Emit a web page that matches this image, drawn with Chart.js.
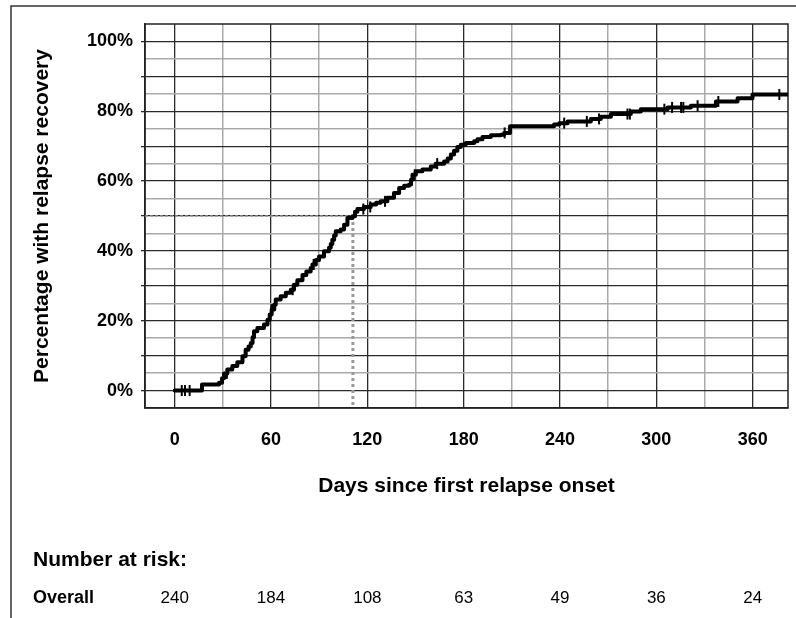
<!DOCTYPE html>
<html>
<head>
<meta charset="utf-8">
<script src="https://cdn.jsdelivr.net/npm/chart.js@4.4.1/dist/chart.umd.min.js"></script>
<style>
  html, body { margin: 0; padding: 0; background: #fff; }
  #wrap { position: relative; width: 796px; height: 618px; }
</style>
</head>
<body>
<div id="wrap"><canvas id="c" width="796" height="618"></canvas></div>
<script>
// ---- data ----
const stepDays = [0, 17, 27.6, 29.5, 30.7, 32.8, 35.9, 39.0, 42.2, 44.2, 46.0, 47.4, 48.5, 49.4, 51.5, 55.6, 57.8, 59.2, 60.4, 62.0, 62.9, 66.0, 69.2, 72.3, 74.3, 76.4, 79.6, 82.0, 84.7, 85.8, 87.9, 89.9, 93.0, 96.1, 97.2, 98.2, 99.3, 100.3, 103.4, 105.5, 107.6, 110.7, 112.3, 113.8, 117.9, 122.1, 125.5, 128.3, 132.5, 136.6, 139.8, 142.9, 146.0, 147.2, 148.1, 150.2, 154.3, 159.5, 162.5, 167.8, 170.0, 172.0, 174.0, 176.1, 178.2, 181.3, 186.5, 188.6, 191.7, 196.9, 203.1, 205.2, 208.9, 236.3, 239.5, 244.7, 259.2, 265.4, 271.7, 284.1, 290.3, 307.0, 321.5, 337.1, 350.6, 359.9, 385];
const stepPct = [0, 1.7, 2.2, 3.5, 4.9, 6.0, 7.0, 8.1, 9.8, 11.7, 12.6, 13.6, 15.3, 17.0, 17.9, 18.9, 20.3, 21.8, 23.2, 24.6, 26.1, 27.0, 28.0, 28.9, 30.3, 31.6, 33.1, 34.1, 35.1, 36.1, 37.4, 38.4, 39.9, 40.9, 42.0, 43.2, 44.4, 45.6, 46.1, 47.5, 49.4, 49.9, 51.2, 52.0, 52.6, 53.3, 53.8, 54.2, 55.2, 56.6, 58.0, 58.7, 59.0, 60.4, 61.8, 62.8, 63.3, 64.2, 65.0, 65.6, 66.5, 67.6, 68.7, 69.8, 70.4, 70.9, 71.4, 72.0, 72.6, 73.1, 73.3, 73.8, 75.7, 76.2, 76.6, 77.1, 77.8, 78.4, 79.2, 79.9, 80.6, 81.1, 81.6, 82.8, 83.7, 84.8, 84.8];
const censorDays = [4.4, 6.4, 9.3, 32.5, 60.6, 73.5, 86.5, 117.5, 121.8, 131.0, 149.5, 163.5, 205.5, 242.6, 256.7, 264.3, 282.0, 283.5, 305.0, 309.8, 315.4, 316.8, 325.7, 338.6, 376.6];
const medianDay = 111;
const medianPct = 50;
const xTickValues = [0, 30, 60, 90, 120, 150, 180, 210, 240, 270, 300, 330, 360];
const yTickValues = [0, 5, 10, 15, 20, 25, 30, 35, 40, 45, 50, 55, 60, 65, 70, 75, 80, 85, 90, 95, 100];
const riskDays = [0, 60, 120, 180, 240, 300, 360];
const riskCounts = [240, 184, 108, 63, 49, 36, 24];
const riskGroup = 'Overall';
const xTitle = 'Days since first relapse onset';
const yTitle = 'Percentage with relapse recovery';
const riskTitle = 'Number at risk:';

// ---- helpers ----
const X_MIN = -18.5, X_MAX = 382, Y_MIN = -5, Y_MAX = 105;
function pctAt(day) {
  let v = stepPct[0];
  for (let i = 0; i < stepDays.length; i++) { if (stepDays[i] <= day) v = stepPct[i]; }
  return v;
}
const FONT = "'Liberation Sans', Arial, sans-serif";

const framePlugin = {
  id: 'frame',
  beforeDraw(chart) {
    const ctx = chart.ctx;
    ctx.save();
    ctx.strokeStyle = '#333';
    ctx.lineWidth = 1.5;
    ctx.beginPath();
    ctx.moveTo(11, 618); ctx.lineTo(11, 6); ctx.lineTo(796, 6);
    ctx.stroke();
    ctx.restore();
  },
  beforeDatasetsDraw(chart) {
    const a = chart.chartArea, ctx = chart.ctx;
    ctx.save();
    ctx.strokeStyle = '#222';
    ctx.lineWidth = 1.5;
    ctx.strokeRect(a.left, a.top, a.right - a.left, a.bottom - a.top);
    ctx.restore();
  },
  afterDraw(chart) {
    const ctx = chart.ctx, xs = chart.scales.x;
    ctx.save();
    ctx.fillStyle = '#000';
    ctx.textBaseline = 'middle';
    ctx.textAlign = 'left';
    ctx.font = 'bold 21px ' + FONT;
    ctx.fillText(riskTitle, 33, 560);
    ctx.font = 'bold 18px ' + FONT;
    ctx.fillText(riskGroup, 33, 598);
    ctx.font = '17px ' + FONT;
    ctx.textAlign = 'center';
    riskDays.forEach((d, i) => ctx.fillText(String(riskCounts[i]), xs.getPixelForValue(d), 598));
    ctx.restore();
  }
};

new Chart(document.getElementById('c'), {
  type: 'line',
  data: {
    datasets: [
      {
        label: 'Overall',
        data: stepDays.map((d, i) => ({ x: d, y: stepPct[i] })),
        stepped: true,
        borderColor: '#000',
        borderWidth: 4,
        borderJoinStyle: 'round',
        borderCapStyle: 'round',
        pointRadius: 0,
        fill: false,
        order: 1
      },
      {
        type: 'scatter',
        label: 'censored',
        data: censorDays.map(d => ({ x: d, y: pctAt(d) })),
        pointStyle: 'line',
        rotation: 90,
        radius: 5.5,
        borderColor: '#000',
        borderWidth: 2,
        backgroundColor: '#000',
        order: 0
      },
      {
        label: 'median-h',
        data: [{ x: X_MIN, y: medianPct }, { x: medianDay, y: medianPct }],
        borderColor: '#999',
        borderWidth: 1.5,
        borderDash: [3, 2],
        pointRadius: 0,
        order: 2
      },
      {
        label: 'median-v',
        data: [{ x: medianDay, y: medianPct }, { x: medianDay, y: Y_MIN }],
        borderColor: '#999',
        borderWidth: 3,
        borderDash: [3, 3],
        pointRadius: 0,
        order: 2
      }
    ]
  },
  options: {
    responsive: false,
    animation: false,
    layout: { padding: { left: 0, top: 24, right: 8, bottom: 110 } },
    plugins: { legend: { display: false }, tooltip: { enabled: false } },
    scales: {
      x: {
        type: 'linear',
        min: X_MIN, max: X_MAX,
        afterBuildTicks: s => { s.ticks = xTickValues.map(v => ({ value: v })); },
        afterFit: s => { s.height = 100; },
        grid: {
          color: c => (c.tick && c.tick.value % 60 === 0) ? '#2a2a2a' : '#aaaaaa',
          lineWidth: c => (c.tick && c.tick.value % 60 === 0) ? 1.3 : 1.5,
          drawTicks: false
        },
        border: { display: true, color: '#222', width: 1.5 },
        ticks: {
          autoSkip: false,
          maxRotation: 0,
          padding: 21,
          color: '#000',
          font: { family: FONT, size: 18, weight: 'bold' },
          callback: v => (v % 60 === 0 ? String(v) : '')
        },
        title: {
          display: true,
          text: xTitle,
          color: '#000',
          font: { family: FONT, size: 21, weight: 'bold' },
          padding: { top: 0, bottom: 9 }
        }
      },
      y: {
        type: 'linear',
        min: Y_MIN, max: Y_MAX,
        afterBuildTicks: s => { s.ticks = yTickValues.map(v => ({ value: v })); },
        afterFit: s => { s.width = 145; },
        grid: {
          color: c => (c.tick && c.tick.value % 10 === 0) ? '#2a2a2a' : '#aaaaaa',
          lineWidth: c => (c.tick && c.tick.value % 10 === 0) ? 1.3 : 1.5,
          tickColor: c => (c.tick && c.tick.value % 10 === 0) ? '#2a2a2a' : 'rgba(0,0,0,0)',
          tickLength: 4,
          drawTicks: true
        },
        border: { display: true, color: '#222', width: 1.5 },
        ticks: {
          autoSkip: false,
          padding: 8,
          color: '#000',
          font: { family: FONT, size: 18, weight: 'bold' },
          callback: v => (v % 20 === 0 ? v + '%' : '')
        },
        title: {
          display: true,
          text: yTitle,
          color: '#000',
          font: { family: FONT, size: 21, weight: 'bold' },
          padding: { top: 30, bottom: 0 }
        }
      }
    }
  },
  plugins: [framePlugin]
});
</script>
</body>
</html>
